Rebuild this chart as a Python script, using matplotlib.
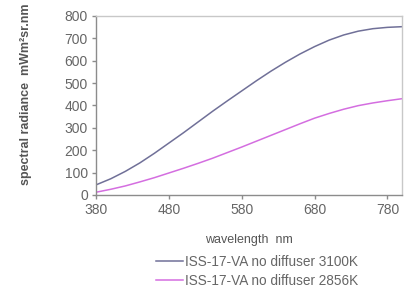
import matplotlib
matplotlib.use("Agg")
import matplotlib.pyplot as plt

# datos
wavelength = [380, 400, 420, 440, 460, 480, 500, 520, 540, 560, 580,
              600, 620, 640, 660, 680, 700, 720, 740, 760, 780, 800]
rad_3100 = [45, 72, 105, 143, 186, 232, 278, 326, 374, 420, 465,
            510, 553, 593, 630, 663, 692, 715, 732, 743, 749, 752]
rad_2856 = [12, 25, 40, 58, 77, 98, 119, 141, 164, 189, 214,
            240, 266, 292, 318, 343, 364, 383, 399, 411, 421, 430]
xticks = [380, 480, 580, 680, 780]
yticks = [0, 100, 200, 300, 400, 500, 600, 700, 800]
labels = ["ISS-17-VA no diffuser 3100K", "ISS-17-VA no diffuser 2856K"]

plt.rcParams["font.family"] = ["Liberation Sans", "DejaVu Sans"]

fig = plt.figure(figsize=(4.11, 2.90), dpi=100)
ax = fig.add_axes([0.234, 0.328, 0.744, 0.617])

ax.plot(wavelength, rad_3100, color="#707098", lw=1.1, label=labels[0])
ax.plot(wavelength, rad_2856, color="#d46ee0", lw=1.1, label=labels[1])

ax.set_xlim(380, 800)
ax.set_ylim(0, 800)
ax.set_xticks(xticks)
ax.set_yticks(yticks)

gray = "#8c8c8c"
for s in ax.spines.values():
    s.set_color("#c8c8c8")
    s.set_linewidth(1.0)
ax.spines["left"].set_color(gray)
ax.spines["bottom"].set_color(gray)
ax.tick_params(direction="out", length=3, width=1, color=gray,
               labelcolor="#666666", labelsize=10, pad=3)

ax.set_xlabel("wavelength  nm", fontsize=9, color="#555555", labelpad=12)
ax.set_ylabel("spectral radiance  mWm²sr.nm", fontsize=9, color="#555555",
              fontweight="bold")
ax.yaxis.set_label_coords(-0.21, 0.56)

# leyenda debajo, en coordenadas de figura
fig.legend(loc="center", bbox_to_anchor=(0.625, 0.064), frameon=False,
           fontsize=9.8, labelcolor="#666666", handlelength=2.0,
           handletextpad=0.15, labelspacing=0.38, borderpad=0)

plt.savefig("out.png", dpi=100)
